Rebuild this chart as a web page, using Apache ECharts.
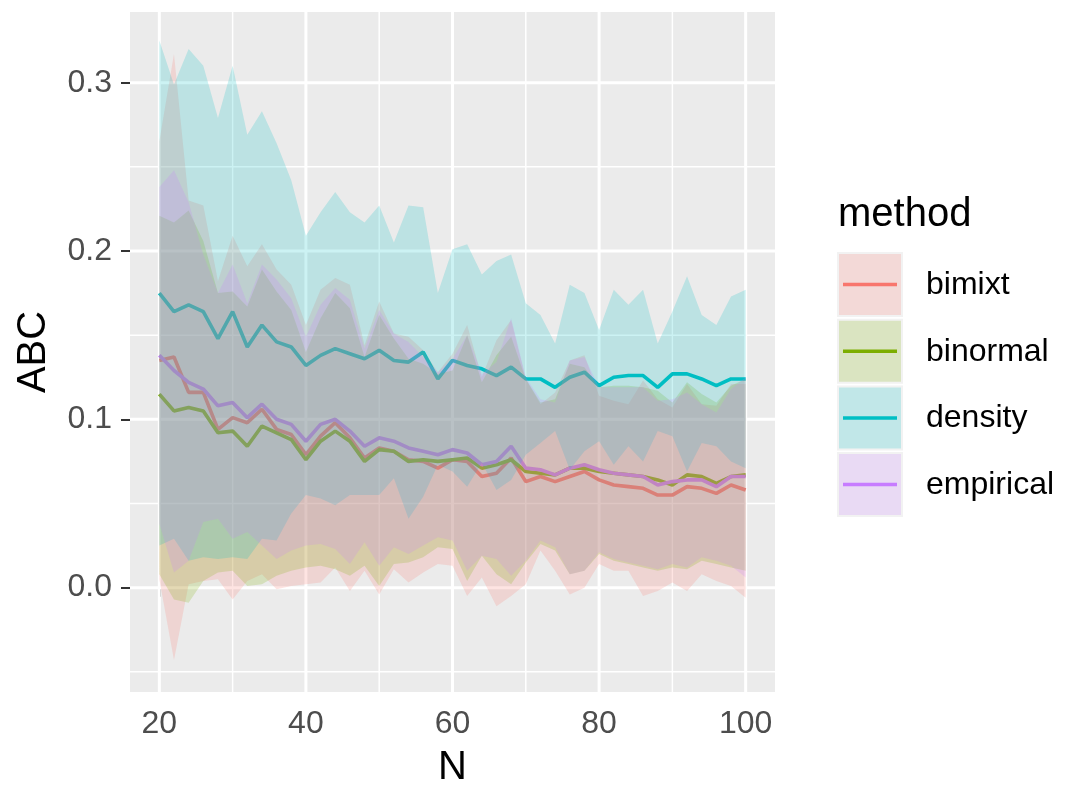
<!DOCTYPE html>
<html>
<head>
<meta charset="utf-8">
<title>ABC by N</title>
<script src="https://cdn.jsdelivr.net/npm/echarts/dist/echarts.min.js"></script>
<style>
  html, body { margin: 0; padding: 0; background: #ffffff; overflow: hidden; }
  #chart { width: 1065px; height: 793px; }
</style>
</head>
<body>
<div id="chart"></div>
<script>
// Sample sizes
const N = [20, 22, 24, 26, 28, 30, 32, 34, 36, 38, 40, 42, 44, 46, 48, 50, 52, 54, 56, 58,
           60, 62, 64, 66, 68, 70, 72, 74, 76, 78, 80, 82, 84, 86, 88, 90, 92, 94, 96, 98, 100];

// Mean ABC per method, with lower / upper band
const bimixtMean = [0.135, 0.137, 0.116, 0.116, 0.094, 0.101, 0.098, 0.106, 0.094, 0.091,
                    0.079, 0.090, 0.098, 0.089, 0.077, 0.083, 0.081, 0.076, 0.075, 0.071,
                    0.076, 0.075, 0.066, 0.068, 0.077, 0.063, 0.066, 0.063, 0.066, 0.069,
                    0.064, 0.061, 0.060, 0.059, 0.055, 0.055, 0.060, 0.059, 0.056, 0.061, 0.058];
const bimixtLower = [0.005, -0.043, 0.002, 0.004, 0.005, -0.007, 0.004, 0.008, -0.001, 0.001,
                     0.002, 0.003, 0.012, -0.002, 0.010, -0.004, 0.011, 0.003, 0.009, 0.014,
                     0.013, -0.005, 0.006, -0.011, -0.005, 0.002, 0.022, 0.010, -0.004, 0.000,
                     0.014, 0.010, 0.010, -0.005, -0.002, 0.003, -0.002, 0.008, 0.004, 0.001, -0.006];
const bimixtUpper = [0.265, 0.317, 0.230, 0.227, 0.182, 0.209, 0.191, 0.204, 0.189, 0.180,
                     0.156, 0.177, 0.184, 0.180, 0.144, 0.170, 0.151, 0.149, 0.141, 0.128,
                     0.139, 0.156, 0.125, 0.147, 0.159, 0.124, 0.109, 0.116, 0.135, 0.138,
                     0.114, 0.111, 0.109, 0.123, 0.112, 0.107, 0.121, 0.109, 0.108, 0.121, 0.121];

const binormalMean = [0.115, 0.105, 0.107, 0.105, 0.092, 0.093, 0.084, 0.096, 0.092, 0.088,
                      0.076, 0.087, 0.093, 0.087, 0.075, 0.082, 0.081, 0.075, 0.076, 0.075,
                      0.076, 0.077, 0.071, 0.073, 0.076, 0.069, 0.068, 0.067, 0.071, 0.071,
                      0.069, 0.068, 0.067, 0.066, 0.064, 0.061, 0.067, 0.066, 0.062, 0.066, 0.067];
const binormalLower = [0.008, -0.007, -0.009, 0.004, 0.009, 0.010, 0.001, 0.002, 0.007, 0.010,
                       0.012, 0.013, 0.011, 0.007, 0.013, 0.001, 0.014, 0.015, 0.018, 0.024,
                       0.023, 0.004, 0.019, 0.008, 0.002, 0.015, 0.026, 0.022, 0.008, 0.010,
                       0.020, 0.016, 0.014, 0.012, 0.010, 0.012, 0.011, 0.016, 0.014, 0.012, 0.010];
const binormalUpper = [0.221, 0.217, 0.224, 0.206, 0.175, 0.176, 0.167, 0.189, 0.176, 0.165,
                       0.140, 0.160, 0.175, 0.166, 0.137, 0.162, 0.148, 0.136, 0.133, 0.127,
                       0.129, 0.150, 0.122, 0.138, 0.149, 0.124, 0.110, 0.112, 0.133, 0.131,
                       0.119, 0.120, 0.120, 0.119, 0.117, 0.110, 0.122, 0.115, 0.110, 0.120, 0.124];

const densityMean = [0.175, 0.164, 0.168, 0.164, 0.148, 0.164, 0.143, 0.156, 0.146, 0.143,
                     0.132, 0.138, 0.142, 0.139, 0.136, 0.141, 0.135, 0.134, 0.140, 0.124,
                     0.135, 0.132, 0.130, 0.126, 0.131, 0.124, 0.124, 0.119, 0.125, 0.128,
                     0.120, 0.125, 0.126, 0.126, 0.119, 0.127, 0.127, 0.124, 0.120, 0.124, 0.124];
const densityLower = [0.025, 0.029, 0.016, 0.018, 0.017, 0.018, 0.017, 0.029, 0.028, 0.044,
                      0.055, 0.053, 0.049, 0.055, 0.055, 0.055, 0.065, 0.041, 0.054, 0.073,
                      0.069, 0.060, 0.074, 0.058, 0.064, 0.079, 0.086, 0.093, 0.070, 0.081,
                      0.087, 0.073, 0.084, 0.075, 0.093, 0.090, 0.069, 0.086, 0.084, 0.075, 0.071];
const densityUpper = [0.325, 0.299, 0.320, 0.310, 0.279, 0.310, 0.269, 0.283, 0.264, 0.242,
                      0.209, 0.223, 0.235, 0.223, 0.217, 0.227, 0.205, 0.227, 0.226, 0.175,
                      0.201, 0.204, 0.186, 0.194, 0.198, 0.169, 0.162, 0.145, 0.180, 0.175,
                      0.153, 0.177, 0.168, 0.177, 0.145, 0.164, 0.185, 0.162, 0.156, 0.173, 0.177];

const empiricalMean = [0.138, 0.129, 0.122, 0.118, 0.108, 0.110, 0.101, 0.109, 0.100, 0.097,
                       0.087, 0.097, 0.100, 0.093, 0.084, 0.089, 0.087, 0.083, 0.081, 0.079,
                       0.082, 0.080, 0.073, 0.075, 0.084, 0.071, 0.070, 0.067, 0.071, 0.073,
                       0.070, 0.068, 0.067, 0.066, 0.061, 0.063, 0.064, 0.064, 0.060, 0.066, 0.066];
const empiricalLower = [0.038, 0.009, 0.016, 0.039, 0.041, 0.029, 0.033, 0.025, 0.017, 0.022,
                        0.025, 0.026, 0.023, 0.014, 0.027, 0.013, 0.024, 0.020, 0.025, 0.030,
                        0.028, 0.010, 0.019, 0.017, 0.007, 0.016, 0.028, 0.024, 0.008, 0.010,
                        0.021, 0.017, 0.015, 0.013, 0.011, 0.014, 0.012, 0.018, 0.016, 0.013, 0.006];
const empiricalUpper = [0.238, 0.248, 0.229, 0.198, 0.175, 0.192, 0.169, 0.192, 0.183, 0.172,
                        0.149, 0.168, 0.178, 0.171, 0.142, 0.165, 0.151, 0.146, 0.137, 0.128,
                        0.136, 0.150, 0.127, 0.134, 0.160, 0.125, 0.112, 0.110, 0.135, 0.137,
                        0.119, 0.119, 0.119, 0.119, 0.111, 0.112, 0.116, 0.109, 0.104, 0.118, 0.125];

// Axis ticks and grid breaks
const xTicks = [20, 40, 60, 80, 100];
const xMinor = [30, 50, 70, 90];
const yTicks = [0, 0.1, 0.2, 0.3];
const yMinor = [-0.05, 0.05, 0.15, 0.25];

const X_MIN = 16, X_MAX = 104;
const Y_MIN = -0.062, Y_MAX = 0.342;

const FONT = '"Liberation Sans", Arial, Helvetica, sans-serif';

const methods = [
  { name: 'bimixt',    rgb: [248, 118, 109], mean: bimixtMean,    lower: bimixtLower,    upper: bimixtUpper },
  { name: 'binormal',  rgb: [124, 174, 0],   mean: binormalMean,  lower: binormalLower,  upper: binormalUpper },
  { name: 'density',   rgb: [0, 191, 196],   mean: densityMean,   lower: densityLower,   upper: densityUpper },
  { name: 'empirical', rgb: [199, 124, 255], mean: empiricalMean, lower: empiricalLower, upper: empiricalUpper }
];
const RIBBON_ALPHA = 0.2;
const rgba = (c, a) => `rgba(${c[0]},${c[1]},${c[2]},${a})`;

// White panel grid lines
function vGrid(values, width) {
  return {
    type: 'custom', silent: true, z: 1,
    data: values.map(v => [v, 0]),
    renderItem: (params, api) => {
      const v = api.value(0);
      const a = api.coord([v, Y_MIN]);
      const b = api.coord([v, Y_MAX]);
      return { type: 'line', shape: { x1: a[0], y1: a[1], x2: b[0], y2: b[1] },
               style: { stroke: '#ffffff', lineWidth: width } };
    }
  };
}
function hGrid(values, width) {
  return {
    type: 'custom', silent: true, z: 1,
    data: values.map(v => [X_MIN, v]),
    renderItem: (params, api) => {
      const v = api.value(1);
      const a = api.coord([X_MIN, v]);
      const b = api.coord([X_MAX, v]);
      return { type: 'line', shape: { x1: a[0], y1: a[1], x2: b[0], y2: b[1] },
               style: { stroke: '#ffffff', lineWidth: width } };
    }
  };
}

// Mean lines (drawn beneath the bands)
const lineSeries = methods.map(m => ({
  type: 'line', name: m.name, z: 2,
  data: N.map((n, i) => [n, m.mean[i]]),
  showSymbol: false, symbol: 'none', silent: true,
  lineStyle: { color: rgba(m.rgb, 1), width: 3.6 },
  itemStyle: { color: rgba(m.rgb, 1) }
}));

// Translucent bands between lower and upper
const ribbonSeries = methods.map((m, k) => ({
  type: 'custom', name: m.name + ' band', z: 3 + k, silent: true,
  data: [[N[0], m.lower[0]]],
  renderItem: (params, api) => {
    const pts = [];
    for (let i = 0; i < N.length; i++) pts.push(api.coord([N[i], m.upper[i]]));
    for (let i = N.length - 1; i >= 0; i--) pts.push(api.coord([N[i], m.lower[i]]));
    return { type: 'polygon', shape: { points: pts },
             style: { fill: rgba(m.rgb, RIBBON_ALPHA), stroke: null } };
  }
}));

// Legend drawn as keys (band fill + line) with labels
const legendGraphics = [];
legendGraphics.push({
  type: 'text', left: 838, top: 195,
  style: { text: 'method', font: `40px ${FONT}`, fill: '#000000' }
});
methods.forEach((m, i) => {
  const top = 252 + i * 66.7;
  legendGraphics.push({ type: 'rect', shape: { x: 837, y: top, width: 66, height: 65 },
                        style: { fill: '#F2F2F2' } });
  legendGraphics.push({ type: 'rect', shape: { x: 839, y: top + 2, width: 62, height: 61 },
                        style: { fill: rgba(m.rgb, RIBBON_ALPHA) } });
  legendGraphics.push({ type: 'line', shape: { x1: 843, y1: top + 32.5, x2: 897, y2: top + 32.5 },
                        style: { stroke: rgba(m.rgb, 1), lineWidth: 3.5 } });
  legendGraphics.push({ type: 'text', x: 926, y: top + 33,
                        style: { text: m.name, font: `32px ${FONT}`, fill: '#000000',
                                 verticalAlign: 'middle', textVerticalAlign: 'middle' } });
});

const chart = echarts.init(document.getElementById('chart'), null,
                           { renderer: 'canvas', width: 1065, height: 793 });
chart.setOption({
  animation: false,
  backgroundColor: '#ffffff',
  grid: { left: 130, width: 645, top: 12, height: 688, show: true,
          backgroundColor: '#EBEBEB', borderWidth: 0, containLabel: false },
  xAxis: {
    type: 'value', min: X_MIN, max: X_MAX,
    name: 'N', nameLocation: 'middle', nameGap: 56,
    nameTextStyle: { fontFamily: FONT, fontSize: 40, color: '#000000' },
    axisLine: { show: false },
    axisTick: { show: true, length: 9, customValues: xTicks,
                lineStyle: { color: '#333333', width: 2 } },
    axisLabel: { customValues: xTicks, margin: 16, fontFamily: FONT, fontSize: 32, color: '#4D4D4D' },
    splitLine: { show: false }
  },
  yAxis: {
    type: 'value', min: Y_MIN, max: Y_MAX,
    name: 'ABC', nameLocation: 'middle', nameGap: 76, nameRotate: 90,
    nameTextStyle: { fontFamily: FONT, fontSize: 40, color: '#000000' },
    axisLine: { show: false },
    axisTick: { show: true, length: 9, customValues: yTicks,
                lineStyle: { color: '#333333', width: 2 } },
    axisLabel: { customValues: yTicks, margin: 18, fontFamily: FONT, fontSize: 32, color: '#4D4D4D',
                 formatter: v => Number(v).toFixed(1) },
    splitLine: { show: false }
  },
  graphic: legendGraphics,
  series: [
    vGrid(xMinor, 1.5), hGrid(yMinor, 1.5),
    vGrid(xTicks, 3), hGrid(yTicks, 3),
    ...lineSeries,
    ...ribbonSeries
  ]
});
</script>
</body>
</html>
